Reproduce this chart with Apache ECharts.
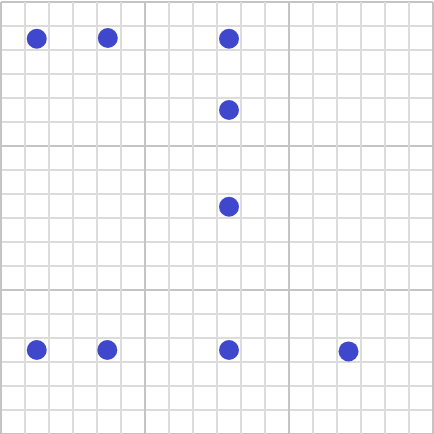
<!DOCTYPE html>
<html>
<head>
<meta charset="utf-8">
<style>html,body{margin:0;padding:0;background:#fff;}#c{width:434px;height:434px;}</style>
<script src="https://cdn.jsdelivr.net/npm/echarts@6/dist/echarts.min.js"></script>
</head>
<body>
<div id="c"></div>
<script>
var xValues = [1.49, 4.45, 9.5, 9.5, 9.5, 1.49, 4.43, 9.5, 14.48];
var yValues = [1.53, 1.5, 1.53, 4.5, 8.53, 14.5, 14.5, 14.5, 14.56];
var points = xValues.map(function (x, i) { return [x, yValues[i]]; });

var chart = echarts.init(document.getElementById('c'), null, {renderer: 'canvas'});
var axisCommon = {
  type: 'value', min: 0, max: 18, interval: 6,
  axisLine: {show: false}, axisTick: {show: false}, axisLabel: {show: false},
  splitLine: {show: true, lineStyle: {color: '#c4c4c4', width: 2}},
  minorTick: {show: false, splitNumber: 6},
  minorSplitLine: {show: true, lineStyle: {color: '#dcdcdc', width: 2}}
};
chart.setOption({
  animation: false,
  backgroundColor: '#ffffff',
  grid: {left: 1, right: 1, top: 2, bottom: 0, containLabel: false},
  xAxis: Object.assign({}, axisCommon),
  yAxis: Object.assign({inverse: true}, axisCommon),
  series: [{
    type: 'scatter',
    data: points,
    symbolSize: 20,
    itemStyle: {color: '#3f48cc', opacity: 1}
  }]
});
</script>
</body>
</html>
